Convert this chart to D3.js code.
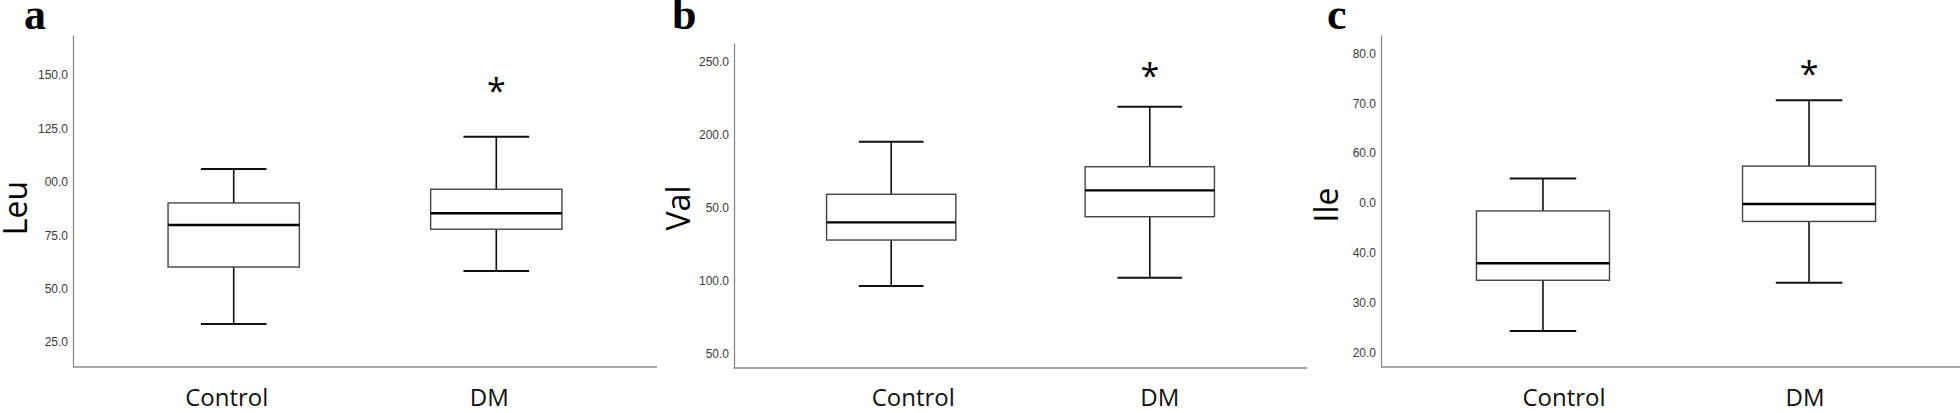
<!DOCTYPE html>
<html>
<head>
<meta charset="utf-8">
<script src="https://cdn.jsdelivr.net/npm/d3@7"></script>
<style>
  html, body { margin: 0; padding: 0; background: #fff; }
  svg { display: block; }
</style>
</head>
<body>
<svg id="chart" width="1960" height="413"></svg>
<script>
// ---------------- DATA ----------------
const categories = ["Control", "DM"];

// box statistics per amino acid: [whiskerLow, Q1, median, Q3, whiskerHigh]
const leuControl = [33.4, 60.1, 79.8, 90.1, 106.0];
const leuDM      = [58.2, 77.8, 85.3, 96.5, 121.1];
const valControl = [96.2, 127.8, 139.9, 159.2, 195.3];
const valDM      = [101.9, 143.8, 161.9, 178.1, 219.3];
const ileControl = [24.3, 34.5, 37.9, 48.4, 54.9];
const ileDM      = [34.0, 46.3, 49.8, 57.4, 70.6];

// y tick values and the tick texts as printed in the figure
const leuTicks = [25, 50, 75, 100, 125, 150];
const leuTickLabels = ["25.0", "50.0", "75.0", "00.0", "125.0", "150.0"];
const valTicks = [50, 100, 150, 200, 250];
const valTickLabels = ["50.0", "100.0", "50.0", "200.0", "250.0"];
const ileTicks = [20, 30, 40, 50, 60, 70, 80];
const ileTickLabels = ["20.0", "30.0", "40.0", "0.0", "60.0", "70.0", "80.0"];

// y-axis visible ranges
const leuDomain = [13.3, 168.7];
const valDomain = [40, 263];
const ileDomain = [17.1, 83.7];

// significance marks (category, value level)
const leuSig = ["DM", 145.3];
const valSig = ["DM", 244.5];
const ileSig = ["DM", 77.0];

const panelLetters = ["a", "b", "c"];
const yTitles = ["Leu", "Val", "Ile"];

// ---------------- LAYOUT ----------------
const layout = [
  { left: 73,   right: 657,  top: 35, bottom: 367, padding: 0.612, align: 0.5,   labelDx: [-7, -7],  titleX: 27,   titleY: 208, letterX: 24 },
  { left: 734,  right: 1307, top: 43, bottom: 368, padding: 0.608, align: 0.5,   labelDx: [22, 10],  titleX: 690,  titleY: 208, letterX: 672 },
  { left: 1381, right: 1960, top: 35, bottom: 367, padding: 0.588, align: 0.5176, labelDx: [21, -4], titleX: 1338, titleY: 205, letterX: 1327 }
];

const panels = [
  { stats: [leuControl, leuDM], ticks: leuTicks, tickLabels: leuTickLabels, domain: leuDomain, sig: leuSig },
  { stats: [valControl, valDM], ticks: valTicks, tickLabels: valTickLabels, domain: valDomain, sig: valSig },
  { stats: [ileControl, ileDM], ticks: ileTicks, tickLabels: ileTickLabels, domain: ileDomain, sig: ileSig }
];

const svg = d3.select("#chart");

panels.forEach((p, i) => {
  const L = layout[i];
  const g = svg.append("g");

  const x = d3.scalePoint().domain(categories).range([L.left, L.right]).padding(L.padding).align(L.align);
  const y = d3.scaleLinear().domain(p.domain).range([L.bottom, L.top]);
  const boxW = x.step() * 0.5;
  const capW = boxW * 0.5;

  // y axis
  const yAxis = d3.axisLeft(y).tickValues(p.ticks).tickSize(0).tickPadding(5)
    .tickFormat((d, k) => p.tickLabels[k]);
  const ya = g.append("g").attr("transform", `translate(${L.left},0)`).call(yAxis);
  ya.select(".domain").attr("stroke", "#8a8a8a").attr("stroke-width", 1.3);
  ya.selectAll("text").attr("font-family", "'Liberation Sans', Arial, sans-serif")
    .attr("font-size", 12).attr("fill", "#3a3a3a");

  // x axis line
  const xAxis = d3.axisBottom(x).tickSize(0).tickFormat("");
  const xa = g.append("g").attr("transform", `translate(0,${L.bottom})`).call(xAxis);
  xa.select(".domain").attr("stroke", "#8a8a8a").attr("stroke-width", 1.3)
    .attr("d", `M${L.left},0H${L.right}`);

  // category labels
  g.selectAll(".cat").data(categories).join("text")
    .attr("x", (d, k) => x(d) + L.labelDx[k])
    .attr("y", 406)
    .attr("text-anchor", "middle")
    .attr("font-family", "'Open Sans', sans-serif")
    .attr("font-size", 24)
    .attr("fill", "#111")
    .text(d => d);

  // boxes
  categories.forEach((c, k) => {
    const s = p.stats[k];
    const cx = x(c);
    const bg = g.append("g");
    // whiskers
    bg.append("line").attr("x1", cx).attr("x2", cx).attr("y1", y(s[3])).attr("y2", y(s[4]))
      .attr("stroke", "#111").attr("stroke-width", 1.6);
    bg.append("line").attr("x1", cx).attr("x2", cx).attr("y1", y(s[1])).attr("y2", y(s[0]))
      .attr("stroke", "#111").attr("stroke-width", 1.6);
    // caps
    [s[0], s[4]].forEach(v => {
      bg.append("line").attr("x1", cx - capW / 2).attr("x2", cx + capW / 2)
        .attr("y1", y(v)).attr("y2", y(v)).attr("stroke", "#111").attr("stroke-width", 2);
    });
    // box
    bg.append("rect").attr("x", cx - boxW / 2).attr("width", boxW)
      .attr("y", y(s[3])).attr("height", y(s[1]) - y(s[3]))
      .attr("fill", "#fff").attr("stroke", "#444").attr("stroke-width", 1.4);
    // median
    bg.append("line").attr("x1", cx - boxW / 2).attr("x2", cx + boxW / 2)
      .attr("y1", y(s[2])).attr("y2", y(s[2])).attr("stroke", "#000").attr("stroke-width", 2.4);
  });

  // significance asterisk
  g.append("text")
    .attr("x", x(p.sig[0]))
    .attr("y", y(p.sig[1]))
    .attr("dy", "0.52em")
    .attr("text-anchor", "middle")
    .attr("font-family", "'Open Sans', sans-serif")
    .attr("font-size", 34)
    .attr("fill", "#000")
    .text("*");

  // y title
  g.append("text")
    .attr("transform", `translate(${L.titleX},${L.titleY}) rotate(-90)`)
    .attr("text-anchor", "middle")
    .attr("font-family", "'Open Sans', sans-serif")
    .attr("font-size", 32)
    .attr("fill", "#000")
    .text(yTitles[i]);

  // panel letter
  g.append("text")
    .attr("x", L.letterX).attr("y", 29)
    .attr("font-family", "'Liberation Serif', 'Times New Roman', serif")
    .attr("font-weight", "bold")
    .attr("font-size", 44)
    .attr("fill", "#000")
    .text(panelLetters[i]);
});
</script>
</body>
</html>
